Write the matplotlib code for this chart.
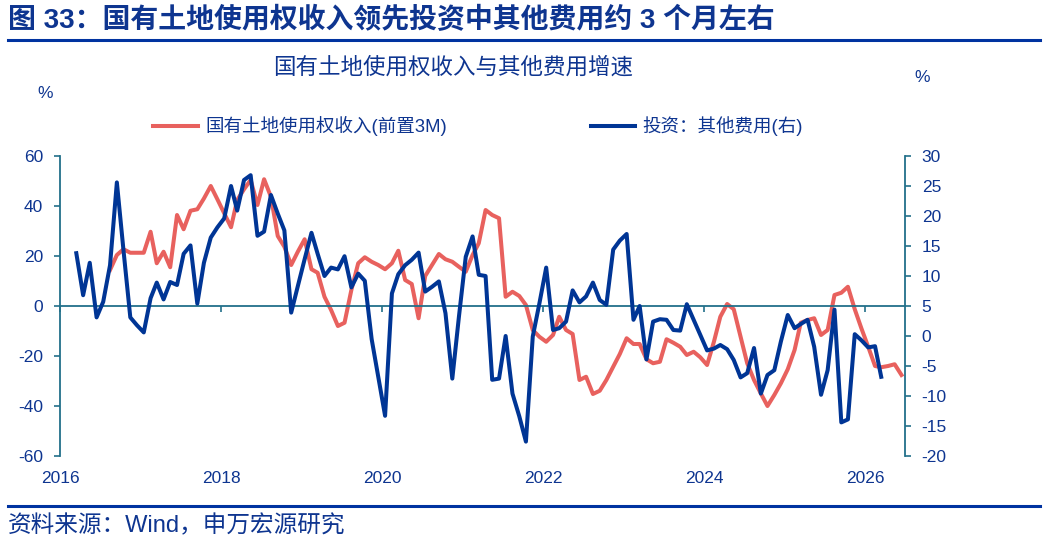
import numpy as np
import pandas as pd
import matplotlib
matplotlib.use('Agg')
import matplotlib.pyplot as plt
import matplotlib.dates as mdates
from matplotlib.lines import Line2D

plt.rcParams['font.family'] = ['Liberation Sans', 'Noto Sans CJK SC']
plt.rcParams['axes.unicode_minus'] = False

# 国有土地使用权收入(前置3M), %, monthly from 2016-08
land_start = '2016-08-01'
land = [14.4, 20.4, 22.7, 21.3, 21.3, 21.3, 29.7, 17.1, 21.7, 15.5,
        36.4, 30.7, 38.1, 38.7, 43.0, 48.0, 42.7, 37.1, 31.5, 42.4,
        46.7, 50.4, 40.4, 50.7, 43.7, 28.0, 23.7, 16.4, 21.7, 26.7,
        14.7, 13.3, 3.7, -1.6, -8.0, -6.7, 6.4, 17.1, 19.5, 17.7,
        16.4, 14.7, 17.1, 22.1, 10.4, 8.8, -4.9, 12.0, 16.4, 20.8,
        18.7, 17.7, 15.7, 13.7, 20.4, 25.1, 38.4, 36.4, 35.1, 3.7,
        5.7, 4.0, 0.4, -9.6, -12.3, -14.3, -11.6, -4.3, -9.6, -11.2,
        -29.6, -28.3, -35.2, -33.9, -29.6, -24.3, -19.2, -12.9, -15.2, -15.2,
        -21.3, -22.9, -22.3, -13.3, -14.7, -16.3, -19.6, -18.3, -20.5, -23.6,
        -14.3, -4.3, 0.8, -1.3, -12.3, -22.9, -29.6, -35.0, -40.0, -35.6,
        -30.9, -25.3, -17.6, -6.7, -5.6, -4.9, -11.6, -9.6, 4.4, 5.3,
        7.7, -1.3, -8.9, -16.3, -24.0, -24.5, -24.0, -23.3, -27.6]

# 投资：其他费用(右), %, monthly from 2016-03
other_start = '2016-03-01'
other = [13.8, 6.8, 12.2, 3.1, 5.7, 11.8, 25.6, 14.3, 3.1, 1.8,
         0.6, 6.3, 8.9, 6.1, 9.0, 8.5, 13.7, 15.1, 5.4, 12.2,
         16.4, 18.1, 19.6, 25.0, 20.9, 26.0, 26.8, 16.7, 17.4, 23.5,
         20.4, 17.6, 3.9, 8.3, 12.8, 17.2, 13.7, 10.0, 11.4, 11.1,
         13.3, 8.1, 10.4, 9.2, -0.5, -6.8, -13.3, 7.1, 10.3, 11.8,
         12.7, 13.9, 7.4, 8.2, 9.1, 3.8, -7.1, 3.2, 13.2, 16.6,
         10.2, 10.0, -7.3, -7.1, 0.0, -9.6, -13.4, -17.6, -0.1, 5.4,
         11.4, 1.0, 1.3, 2.4, 7.6, 5.6, 6.6, 8.9, 6.0, 5.2,
         14.4, 15.9, 17.0, 2.7, 5.0, -3.9, 2.4, 2.8, 2.7, 1.0,
         0.9, 5.3, 2.7, 0.2, -2.4, -2.1, -1.5, -2.2, -4.0, -6.9,
         -6.2, -2.0, -9.6, -6.5, -5.7, -0.9, 3.5, 1.3, 2.0, 2.7,
         -1.8, -9.8, -5.7, 4.4, -14.4, -13.9, 0.3, -0.7, -1.9, -1.7,
         -6.8]

left_ticks = list(range(-60, 61, 20))
right_ticks = list(range(-20, 31, 5))


def months(start, n):
    return pd.date_range(start, periods=n, freq='MS') + pd.Timedelta(days=14)


navy = '#0E3590'
teal = '#22708A'
red = '#E8615E'
blue = '#003595'

fig = plt.figure(figsize=(10.44, 5.38), dpi=100)
ax = fig.add_axes([60/1044, 1 - 456/538, 845/1044, 300/538])
ax2 = ax.twinx()

ax.plot(months(land_start, len(land)), land, color=red, lw=2.9,
        label='国有土地使用权收入(前置3M)')
ax2.plot(months(other_start, len(other)), other, color=blue, lw=2.9,
         label='投资：其他费用(右)')

ax.set_xlim(pd.Timestamp('2016-01-01'), pd.Timestamp('2026-07-01'))
ax.set_ylim(-60, 60)
ax2.set_ylim(-20, 30)
ax.set_yticks(left_ticks)
ax2.set_yticks(right_ticks)

ax.xaxis.set_major_locator(mdates.YearLocator(2))
ax.xaxis.set_major_formatter(mdates.DateFormatter('%Y'))

# spines
for s in ['top', 'right']:
    ax.spines[s].set_visible(False)
for s in ['top', 'left', 'bottom']:
    ax2.spines[s].set_visible(False)
ax.spines['bottom'].set_position(('data', 0))
for sp in [ax.spines['left'], ax.spines['bottom'], ax2.spines['right']]:
    sp.set_color(teal)
    sp.set_linewidth(1.3)

ax.tick_params(axis='x', direction='out', length=4, width=1.2, color=teal,
               labelcolor=navy, labelsize=12.5, pad=115)
ax.tick_params(axis='y', direction='out', length=4, width=1.2, color=teal,
               labelcolor=navy, labelsize=12.5, pad=8)
ax2.tick_params(axis='y', direction='out', length=4, width=1.2, color=teal,
                labelcolor=navy, labelsize=12.5, pad=8)

# legend
fig.legend(loc='center', bbox_to_anchor=(0.458, 1 - 126/538), ncol=2,
           frameon=False, fontsize=13.3, handlelength=2.4, handletextpad=0.4,
           columnspacing=7.8, labelcolor=navy)

# texts
fig.text(8/1044, 1 - 20/538, '图 33：国有土地使用权收入领先投资中其他费用约 3 个月左右',
         fontsize=20.1, fontweight='bold', color=navy, va='center', ha='left')
fig.text(453/1044, 1 - 68/538, '国有土地使用权收入与其他费用增速',
         fontsize=16.2, color=navy, va='center', ha='center')
fig.text(45/1044, 1 - 93/538, '%', fontsize=12.5, color=navy,
         va='center', ha='center')
fig.text(922/1044, 1 - 78/538, '%', fontsize=12.5, color=navy,
         va='center', ha='center')
fig.text(8/1044, 1 - 526/538, '资料来源：Wind，申万宏源研究',
         fontsize=17, color=navy, va='center', ha='left')

fig.add_artist(Line2D([8/1044, 1040/1044], [1 - 40/538, 1 - 40/538],
                      transform=fig.transFigure, color='#0033A0', lw=2.2))
fig.add_artist(Line2D([8/1044, 1040/1044], [1 - 506/538, 1 - 506/538],
                      transform=fig.transFigure, color='#0033A0', lw=2.2))

fig.savefig('out.png', dpi=100)
